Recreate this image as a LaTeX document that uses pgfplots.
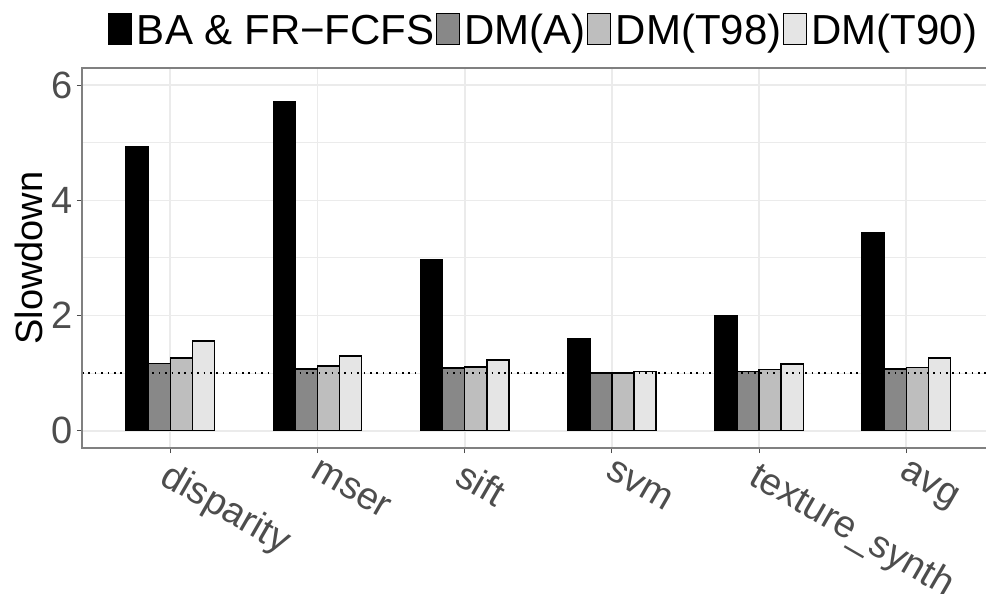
\documentclass[border=0pt]{standalone}
\usepackage{fontspec}
\setmainfont{Liberation Sans}
\usepackage{pgfplots}
\pgfplotsset{compat=1.18}
\definecolor{tickgray}{HTML}{4D4D4D}
\definecolor{gridc}{HTML}{EBEBEB}
\definecolor{borderc}{HTML}{808080}
\definecolor{cA}{HTML}{888888}
\definecolor{cB}{HTML}{BEBEBE}
\definecolor{cC}{HTML}{E5E5E5}
\pgfplotsset{keyc/.style={legend image code/.code={\draw[fill=#1,draw=black,line width=1bp] (0bp,-15.5bp) rectangle (23bp,15.5bp);}}}
\begin{document}
\begin{tikzpicture}
\path[use as bounding box] (0,0) rectangle (986bp,594bp);
\begin{axis}[
 at={(82bp,146bp)}, anchor=south west,
 scale only axis, width=904bp, height=380bp,
 xmin=-0.6, xmax=5.5413, ymin=-0.3, ymax=6.3,
 clip=false,
 axis line style={draw=none},
 xtick={0,1,2,3,4,5},
 xticklabels={disparity,mser,sift,svm,texture\_synth,avg},
 ytick={0,2,4,6}, minor ytick={1,3,5},
 xtick pos=bottom, ytick pos=left,
 tick align=outside,
 major tick length=5bp, minor tick length=0pt,
 tick style={color=tickgray, line width=1bp},
 grid=both,
 major grid style={draw=gridc, line width=1.8bp},
 minor grid style={draw=gridc, line width=1bp},
 /pgf/number format/assume math mode=true,
 tick label style={font=\fontsize{38bp}{40bp}\selectfont, text=tickgray},
 xticklabel style={rotate=-30, anchor=north west, inner sep=0pt, yshift=-4bp, xshift=5bp},
 yticklabel style={inner sep=0pt, xshift=-4bp},
 ylabel={Slowdown},
 ylabel style={font=\fontsize{38bp}{40bp}\selectfont, at={(axis description cs:-0.0586,0.5)}, anchor=center},
 legend style={at={(axis description cs:0.02876,1.1447)}, anchor=north west, draw=none, fill=none, inner sep=0pt, outer sep=0pt, legend columns=4, font=\fontsize{42bp}{44bp}\selectfont, nodes={inner sep=0pt, text height=30bp, text depth=0pt}, /tikz/every odd column/.append style={column sep=5bp}, /tikz/every even column/.append style={column sep=1bp}},
]
\addplot[ybar, bar width=0.15, bar shift=-0.225, fill=black, draw=black, line width=1.5bp, keyc=black]
 coordinates {(0,4.94) (1,5.71) (2,2.97) (3,1.60) (4,1.99) (5,3.44)};
\addlegendentry{BA \& FR−FCFS}
\addplot[ybar, bar width=0.15, bar shift=-0.075, fill=cA, draw=black, line width=1.5bp, keyc=cA]
 coordinates {(0,1.17) (1,1.07) (2,1.09) (3,1.00) (4,1.03) (5,1.07)};
\addlegendentry{DM(A)}
\addplot[ybar, bar width=0.15, bar shift=0.075, fill=cB, draw=black, line width=1.5bp, keyc=cB]
 coordinates {(0,1.26) (1,1.12) (2,1.11) (3,1.00) (4,1.06) (5,1.10)};
\addlegendentry{DM(T98)}
\addplot[ybar, bar width=0.15, bar shift=0.225, fill=cC, draw=black, line width=1.5bp, keyc=cC]
 coordinates {(0,1.56) (1,1.30) (2,1.23) (3,1.03) (4,1.16) (5,1.26)};
\addlegendentry{DM(T90)}
\addplot[black, line width=1.6bp, dash pattern=on 1.6bp off 4.8bp, forget plot]
 coordinates {(-0.6,1) (5.5413,1)};
\draw[borderc, line width=1.3bp] (rel axis cs:1,1) -- (rel axis cs:0,1) -- (rel axis cs:0,0) -- (rel axis cs:1,0);
\end{axis}
\end{tikzpicture}
\end{document}
